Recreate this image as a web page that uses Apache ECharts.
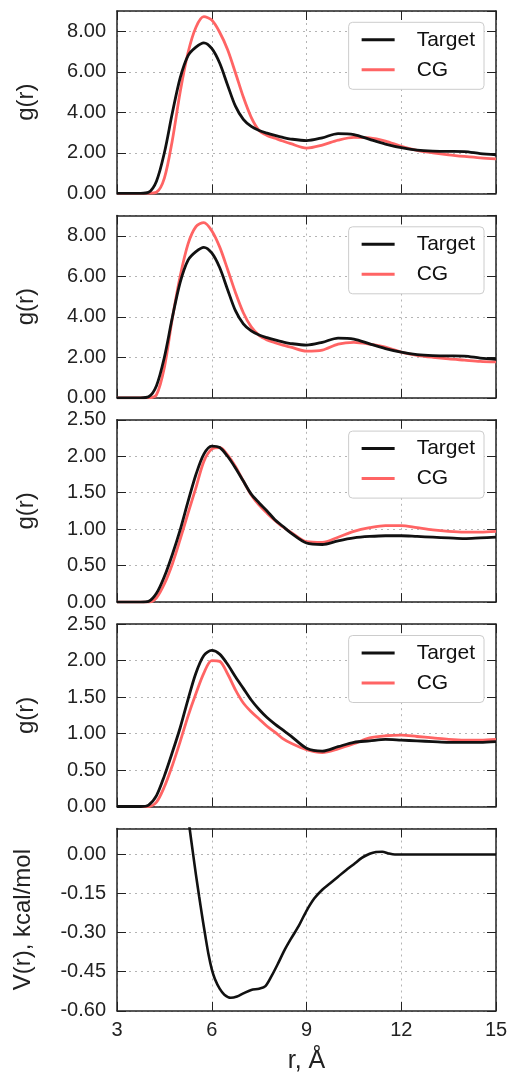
<!DOCTYPE html>
<html><head><meta charset="utf-8">
<script src="https://cdn.jsdelivr.net/npm/echarts@6/dist/echarts.min.js"></script>
<style>html,body{margin:0;padding:0;background:#fff}#c{width:511px;height:1086px}</style>
</head><body><div id="c"></div>
<script>
// ---- data ----
const r = [3, 3.5, 3.75, 4, 4.25, 4.5, 4.75, 5, 5.25, 5.5, 5.75, 6, 6.25, 6.5, 6.75, 7, 7.25, 7.5, 7.75, 8, 8.25, 8.5, 9, 9.5, 10, 10.5, 11, 11.5, 12, 12.5, 13, 13.5, 14, 14.5, 15];
const target12 = [0, 0, 0, 0.05, 0.6, 2.0, 3.95, 5.7, 6.8, 7.22, 7.43, 7.15, 6.43, 5.35, 4.3, 3.65, 3.3, 3.1, 2.97, 2.86, 2.76, 2.68, 2.6, 2.74, 2.95, 2.9, 2.66, 2.43, 2.25, 2.13, 2.08, 2.07, 2.06, 1.96, 1.9];
const cg1 = [0, 0, 0, 0, 0.05, 0.75, 2.6, 5.0, 6.95, 8.2, 8.72, 8.55, 7.95, 7.1, 5.95, 4.75, 3.75, 3.1, 2.86, 2.72, 2.58, 2.45, 2.23, 2.38, 2.62, 2.76, 2.74, 2.58, 2.32, 2.12, 2.0, 1.9, 1.82, 1.75, 1.7];
const cg2 = [0, 0, 0, 0, 0.15, 1.5, 3.9, 6.0, 7.6, 8.45, 8.65, 8.25, 7.45, 6.35, 5.2, 4.2, 3.5, 3.08, 2.86, 2.72, 2.6, 2.5, 2.3, 2.35, 2.65, 2.74, 2.65, 2.5, 2.25, 2.1, 2.0, 1.92, 1.86, 1.8, 1.77];
const target3 = [0, 0, 0, 0.01, 0.12, 0.35, 0.65, 0.99, 1.38, 1.75, 2.03, 2.14, 2.12, 2.0, 1.84, 1.66, 1.48, 1.36, 1.25, 1.13, 1.04, 0.95, 0.81, 0.79, 0.84, 0.88, 0.9, 0.91, 0.91, 0.9, 0.89, 0.88, 0.87, 0.88, 0.89];
const cg3 = [0, 0, 0, 0, 0.06, 0.25, 0.52, 0.86, 1.22, 1.57, 1.93, 2.1, 2.12, 2.02, 1.86, 1.66, 1.47, 1.33, 1.22, 1.12, 1.03, 0.96, 0.83, 0.82, 0.89, 0.97, 1.02, 1.05, 1.05, 1.02, 0.99, 0.97, 0.96, 0.96, 0.97];
const target4 = [0, 0, 0, 0.02, 0.15, 0.42, 0.74, 1.08, 1.47, 1.83, 2.07, 2.14, 2.09, 1.95, 1.78, 1.62, 1.46, 1.33, 1.22, 1.13, 1.05, 0.97, 0.8, 0.76, 0.82, 0.88, 0.9, 0.92, 0.91, 0.9, 0.89, 0.88, 0.88, 0.88, 0.89];
const cg4 = [0, 0, 0, 0, 0.06, 0.27, 0.56, 0.89, 1.24, 1.55, 1.83, 2.0, 1.99, 1.82, 1.6, 1.42, 1.3, 1.2, 1.1, 1.02, 0.93, 0.87, 0.78, 0.74, 0.79, 0.86, 0.94, 0.97, 0.98, 0.96, 0.94, 0.92, 0.91, 0.91, 0.92];
const rV = [5.2, 5.3, 5.4, 5.5, 5.6, 5.7, 5.8, 5.9, 6.0, 6.1, 6.25, 6.4, 6.6, 6.8, 7.0, 7.25, 7.5, 7.7, 7.9, 8.1, 8.3, 8.5, 8.75, 9.0, 9.25, 9.5, 9.75, 10.0, 10.25, 10.5, 10.75, 11.0, 11.2, 11.4, 11.6, 11.8, 12, 13, 14, 15];
const potV = [0.19, 0.1, 0.01, -0.078, -0.16, -0.24, -0.315, -0.385, -0.44, -0.478, -0.515, -0.538, -0.55, -0.545, -0.533, -0.52, -0.515, -0.505, -0.465, -0.418, -0.368, -0.325, -0.275, -0.216, -0.168, -0.135, -0.11, -0.085, -0.06, -0.037, -0.013, 0.003, 0.01, 0.011, 0.004, 0, 0, 0, 0, 0];
const yMins = [0, 0, 0, 0, -0.6];
const yMaxs = [9, 9, 2.5, 2.5, 0.1];
const yIntervals = [2, 2, 0.5, 0.5, 0.15];
const yNames = ['g(r)', 'g(r)', 'g(r)', 'g(r)', 'V(r), kcal/mol'];
const xName = 'r, Å';
const legendNames = ['Target', 'CG'];

// ---- chart ----
const FONT = 'Liberation Sans, Arial, Helvetica, sans-serif';
const BLACK = '#111111', RED = '#ff6464', FRAME = '#222222';
const zip = (xs, ys) => xs.map((x, i) => [x, ys[i]]);
const tops = [11, 215.5, 419.8, 624.2, 828.5];
const H = 182.3;
const grids = [], xAxes = [], yAxes = [], series = [], legends = [];
const fmt = v => (Math.abs(v) < 1e-9 ? '0.00' : v.toFixed(2));
const tick = { show: true, inside: true, length: 9, lineStyle: { color: FRAME, width: 1 } };
const line = { show: true, onZero: false, lineStyle: { color: FRAME, width: 1.5 } };
const split = { show: true, lineStyle: { color: '#b4b4b4', type: [2, 4], width: 1 } };
for (let i = 0; i < 5; i++) {
  grids.push({ left: 117, width: 379, top: tops[i], height: H, containLabel: false });
  const last = i === 4;
  xAxes.push({
    type: 'value', gridIndex: i, min: 3, max: 15, interval: 3, position: 'bottom',
    axisLine: line, axisTick: tick, splitLine: split,
    axisLabel: { show: last, fontSize: 20, fontFamily: FONT, color: '#222', margin: 10 },
    name: last ? xName : '', nameLocation: 'middle', nameGap: 38,
    nameTextStyle: { fontSize: 25, fontFamily: FONT, color: '#222' }
  });
  xAxes.push({
    type: 'value', gridIndex: i, min: 3, max: 15, interval: 3, position: 'top',
    axisLine: line, axisTick: tick, splitLine: { show: false }, axisLabel: { show: false }
  });
  yAxes.push({
    type: 'value', gridIndex: i, min: yMins[i], max: yMaxs[i], interval: yIntervals[i], position: 'left',
    axisLine: line, axisTick: tick, splitLine: split,
    axisLabel: { fontSize: 20, fontFamily: FONT, color: '#222', margin: 11, formatter: fmt,
      showMaxLabel: (i === 2 || i === 3), showMinLabel: true },
    name: yNames[i], nameLocation: 'middle', nameGap: last ? 82 : 79, nameRotate: 90,
    nameTextStyle: { fontSize: 24, fontFamily: FONT, color: '#222' }
  });
  yAxes.push({
    type: 'value', gridIndex: i, min: yMins[i], max: yMaxs[i], interval: yIntervals[i], position: 'right',
    axisLine: line, axisTick: tick, splitLine: { show: false }, axisLabel: { show: false }
  });
}
const gSeries = [[target12, cg1], [target12, cg2], [target3, cg3], [target4, cg4]];
gSeries.forEach((pair, i) => {
  [BLACK, RED].forEach((c, k) => {
    series.push({
      name: legendNames[k], type: 'line', xAxisIndex: 2 * i, yAxisIndex: 2 * i,
      data: zip(r, pair[k]), symbol: 'none', smooth: 0.3, clip: true,
      lineStyle: { color: c, width: 2.8 }, itemStyle: { color: c }, z: k === 0 ? 3 : 2, silent: true
    });
  });
  legends.push({
    data: legendNames, orient: 'vertical', right: 27, top: tops[i] + 11.3,
    icon: 'rect', itemWidth: 33, itemHeight: 3, itemGap: 9,
    padding: [7, 9, 9, 13], borderColor: '#cccccc', borderWidth: 1, borderRadius: 4,
    backgroundColor: '#ffffff', selectedMode: false,
    textStyle: { fontSize: 21, fontFamily: FONT, color: '#111', padding: [0, 0, 0, 17] }
  });
});
series.push({
  name: 'V', type: 'line', xAxisIndex: 8, yAxisIndex: 8, data: zip(rV, potV),
  symbol: 'none', smooth: 0.3, clip: true, lineStyle: { color: BLACK, width: 2.6 }, silent: true
});
const chart = echarts.init(document.getElementById('c'), null, { renderer: 'canvas' });
chart.setOption({
  animation: false, backgroundColor: '#ffffff',
  grid: grids, xAxis: xAxes, yAxis: yAxes, series: series, legend: legends
});
</script></body></html>
